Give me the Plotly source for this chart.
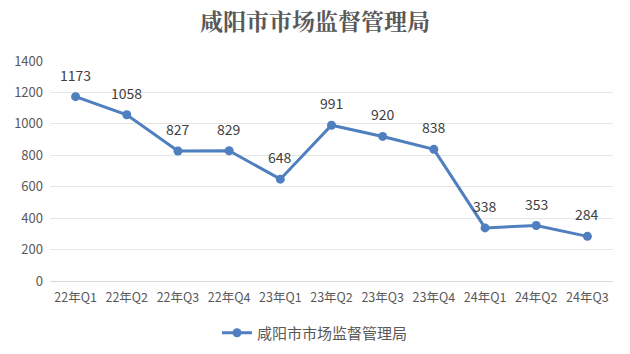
import plotly.graph_objects as go

categories = ["22年Q1", "22年Q2", "22年Q3", "22年Q4", "23年Q1", "23年Q2",
              "23年Q3", "23年Q4", "24年Q1", "24年Q2", "24年Q3"]
values = [1173, 1058, 827, 829, 648, 991, 920, 838, 338, 353, 284]
series_name = "咸阳市市场监督管理局"
title_text = "咸阳市市场监督管理局"

font_cjk = "Noto Sans CJK SC, Noto Sans, sans-serif"
line_color = "#4F7FBF"

fig = go.Figure()
fig.add_trace(go.Scatter(
    x=categories, y=values, name=series_name,
    mode="lines+markers",
    line=dict(color=line_color, width=3),
    marker=dict(size=9, color=line_color),
    cliponaxis=False,
))

for c, v in zip(categories, values):
    fig.add_annotation(x=c, y=v, text=str(v), showarrow=False,
                       yshift=22, xanchor="center", yanchor="middle",
                       font=dict(size=14, color="#404040", family=font_cjk))

fig.update_layout(
    width=630, height=354,
    margin=dict(l=50, r=17, t=61, b=73, autoexpand=False),
    paper_bgcolor="white", plot_bgcolor="white",
    title=dict(text="<b>" + title_text + "</b>", x=0.5, xanchor="center",
               y=1 - 22 / 354, yanchor="middle",
               font=dict(size=23, color="#595959", family="Noto Serif CJK SC, " + font_cjk)),
    showlegend=True,
    legend=dict(orientation="h", xref="container", x=0.5, xanchor="center",
                yref="container", y=1 - 333 / 354, yanchor="middle",
                font=dict(size=15, color="#595959", family=font_cjk)),
    xaxis=dict(type="category", showgrid=False, showline=True, linecolor="#D9D9D9",
               ticks="", ticklabelstandoff=5,
               tickfont=dict(size=12.5, color="#595959", family=font_cjk),
               range=[-0.5, 10.5]),
    yaxis=dict(range=[0, 1400], dtick=200, showgrid=True, gridcolor="#E6E6E6",
               zeroline=False, ticks="", showline=False, ticklabelstandoff=6,
               tickfont=dict(size=13, color="#595959", family=font_cjk)),
)

fig.write_html("out.html")
